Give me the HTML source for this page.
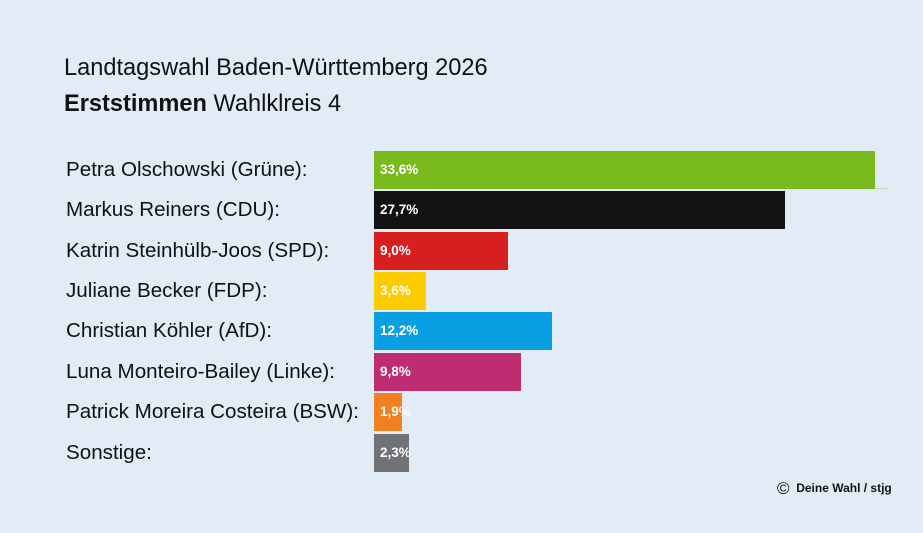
<!DOCTYPE html>
<html><head><meta charset="utf-8"><style>
body{margin:0;width:923px;height:533px;background:#e1ecf7;font-family:"Liberation Sans",sans-serif;position:relative;overflow:hidden}
.t{position:absolute;color:#111}
.lab{position:absolute;left:66px;font-size:20.6px;color:#111;height:38px;line-height:38px}
.bar{position:absolute;left:374px;height:38px;color:#fff;font-weight:bold;font-size:13.5px;line-height:38px;text-indent:6px;white-space:nowrap}
</style></head><body>
<div class="t" style="left:64px;top:55px;font-size:23.6px">Landtagswahl Baden-Württemberg 2026</div>
<div class="t" style="left:64px;top:91px;font-size:23.6px"><b>Erststimmen</b> Wahlklreis 4</div>

<div class="lab" style="top:151px">Petra Olschowski (Grüne):</div>
<div class="bar" style="top:151px;width:501px;background:#79bb1c">33,6%</div>
<div style="position:absolute;left:875px;top:188px;width:14px;height:1px;background:#c9d3c0"></div>

<div class="lab" style="top:191px">Markus Reiners (CDU):</div>
<div class="bar" style="top:191px;width:411px;background:#121212">27,7%</div>

<div class="lab" style="top:232px">Katrin Steinhülb-Joos (SPD):</div>
<div class="bar" style="top:232px;width:134px;background:#d81f1f">9,0%</div>

<div class="lab" style="top:272px">Juliane Becker (FDP):</div>
<div class="bar" style="top:272px;width:52px;background:#fdcc00">3,6%</div>

<div class="lab" style="top:312px">Christian Köhler (AfD):</div>
<div class="bar" style="top:312px;width:178px;background:#089fe3">12,2%</div>

<div class="lab" style="top:353px">Luna Monteiro-Bailey (Linke):</div>
<div class="bar" style="top:353px;width:147px;background:#be2c72">9,8%</div>

<div class="lab" style="top:393px">Patrick Moreira Costeira (BSW):</div>
<div class="bar" style="top:393px;width:28px;background:#f08020;overflow:visible">1,9%</div>

<div class="lab" style="top:434px">Sonstige:</div>
<div class="bar" style="top:434px;width:35px;background:#707275;overflow:visible">2,3%</div>

<div class="t" style="left:777px;top:479px;font-size:12px;font-weight:bold"><span style="font-size:17px;font-weight:normal;vertical-align:-2px">©</span>&nbsp; Deine Wahl / stjg</div>
</body></html>
